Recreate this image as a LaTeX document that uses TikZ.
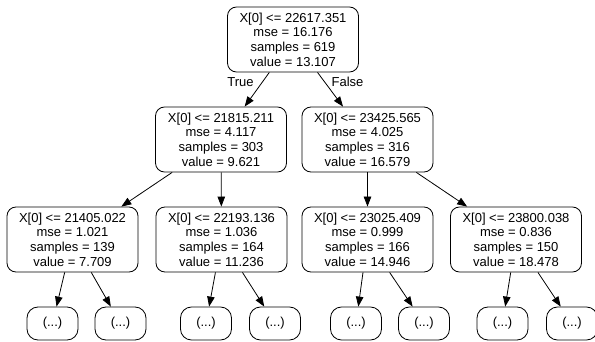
\documentclass[tikz,border=0pt]{standalone}
\usepackage{fontspec}
\setmainfont{Liberation Sans}
\usetikzlibrary{arrows.meta}
\begin{document}
\begin{tikzpicture}[x=1pt,y=-1pt,
  split/.style={draw, rounded corners=9pt, minimum width=131pt, minimum height=65pt,
    align=center, inner sep=0pt, line width=0.8pt, font=\fontsize{13}{14.6}\selectfont},
  leaf/.style={draw, rounded corners=11pt, minimum width=51pt, minimum height=33pt,
    inner sep=0pt, line width=0.8pt, font=\fontsize{13}{15}\selectfont},
  edge/.style={-{Triangle[length=10pt,width=7.5pt]}, line width=0.8pt},
  elabel/.style={font=\fontsize{13}{15}\selectfont, inner sep=0pt}]
\useasboundingbox (0,0) rectangle (595,342);
\fill[white] (0,0) rectangle (595,342);
% nodes
\node[split] (r) at (293,39.5) {X[0] <= 22617.351\\mse = 16.176\\samples = 619\\value = 13.107};
\node[split] (l) at (221,139.5) {X[0] <= 21815.211\\mse = 4.117\\samples = 303\\value = 9.621};
\node[split] (rr) at (367.5,139.5) {X[0] <= 23425.565\\mse = 4.025\\samples = 316\\value = 16.579};
\node[split] (a) at (72.5,239.5) {X[0] <= 21405.022\\mse = 1.021\\samples = 139\\value = 7.709};
\node[split] (b) at (221.5,239.5) {X[0] <= 22193.136\\mse = 1.036\\samples = 164\\value = 11.236};
\node[split] (c) at (367.5,239.5) {X[0] <= 23025.409\\mse = 0.999\\samples = 166\\value = 14.946};
\node[split] (d) at (516,239.5) {X[0] <= 23800.038\\mse = 0.836\\samples = 150\\value = 18.478};
\node[leaf] (a1) at (52.5,323.5) {(...)};
\node[leaf] (a2) at (120.5,323.5) {(...)};
\node[leaf] (b1) at (206,323.5) {(...)};
\node[leaf] (b2) at (275,323.5) {(...)};
\node[leaf] (c1) at (356,323.5) {(...)};
\node[leaf] (c2) at (424,323.5) {(...)};
\node[leaf] (d1) at (502.5,323.5) {(...)};
\node[leaf] (d2) at (572,323.5) {(...)};
% edges
\draw[edge] (r) -- (l);
\draw[edge] (r) -- (rr);
\draw[edge] (l) -- (a);
\draw[edge] (l) -- (b);
\draw[edge] (rr) -- (c);
\draw[edge] (rr) -- (d);
\draw[edge] (a) -- (a1);
\draw[edge] (a) -- (a2);
\draw[edge] (b) -- (b1);
\draw[edge] (b) -- (b2);
\draw[edge] (c) -- (c1);
\draw[edge] (c) -- (c2);
\draw[edge] (d) -- (d1);
\draw[edge] (d) -- (d2);
% edge labels
\node[elabel] (tl) at (240.5,82) {True};
\node[elabel] (fl) at (347.5,82) {False};
\end{tikzpicture}
\end{document}
